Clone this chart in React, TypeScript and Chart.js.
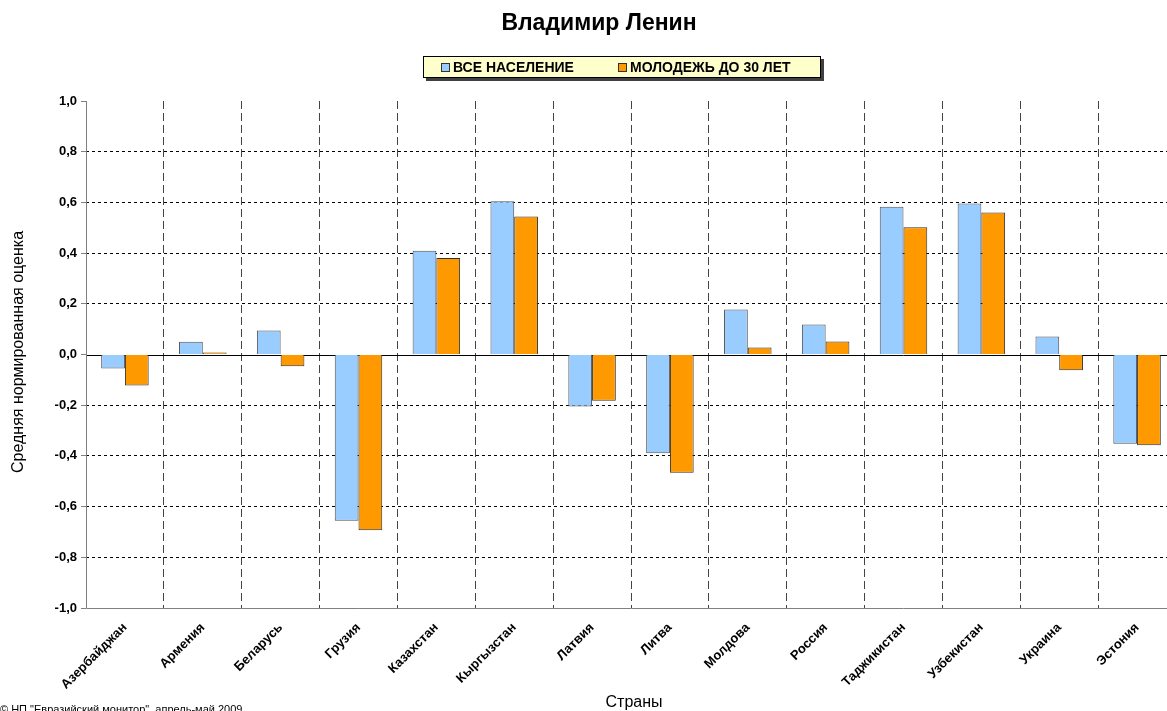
import React, { useEffect, useRef } from "react";
import { Chart, registerables } from "chart.js";

Chart.register(...registerables);

const categories = [
  "Азербайджан", "Армения", "Беларусь", "Грузия", "Казахстан", "Кыргызстан", "Латвия",
  "Литва", "Молдова", "Россия", "Таджикистан", "Узбекистан", "Украина", "Эстония",
];
const allPopulation = [-0.055, 0.05, 0.095, -0.656, 0.409, 0.605, -0.205, -0.39, 0.178, 0.118, 0.583, 0.596, 0.071, -0.352];
const youthUnder30 = [-0.122, 0.008, -0.046, -0.693, 0.381, 0.544, -0.182, -0.466, 0.028, 0.051, 0.502, 0.56, -0.062, -0.358];
const seriesNames = ["ВСЕ НАСЕЛЕНИЕ", "МОЛОДЕЖЬ ДО 30 ЛЕТ"];
const seriesColors = ["#99CCFF", "#FF9900"];
const yTicks = { min: -1, max: 1, step: 0.2 };
const titleText = "Владимир Ленин";
const yTitle = "Средняя нормированная оценка";
const xTitle = "Страны";
const sourceText = "© НП \"Евразийский монитор\", апрель-май 2009";

const FONT = "'Liberation Sans', Arial, sans-serif";

const decorPlugin = {
  id: "decor",
  beforeDatasetsDraw(chart: any) {
    const { ctx, chartArea, scales } = chart;
    const y0 = Math.round(scales.y.getPixelForValue(0)) + 0.5;
    ctx.save();
    ctx.strokeStyle = "#000";
    ctx.lineWidth = 1;
    ctx.setLineDash([]);
    ctx.beginPath();
    ctx.moveTo(chartArea.left, y0);
    ctx.lineTo(chartArea.right, y0);
    ctx.stroke();
    ctx.restore();
  },
  afterDraw(chart: any) {
    const { ctx, chartArea } = chart;
    ctx.save();
    // axis lines
    ctx.setLineDash([]);
    ctx.strokeStyle = "#808080";
    ctx.lineWidth = 1;
    const lx = Math.round(chartArea.left) + 0.5;
    const by2 = Math.round(chartArea.bottom) + 0.5;
    ctx.beginPath();
    ctx.moveTo(lx, chartArea.top);
    ctx.lineTo(lx, by2);
    ctx.lineTo(chartArea.right, by2);
    ctx.stroke();

    // title
    ctx.fillStyle = "#000";
    ctx.font = `bold 23px ${FONT}`;
    ctx.textAlign = "center";
    ctx.textBaseline = "middle";
    ctx.fillText(titleText, 599, 24);

    // legend box
    const bx = 423, by = 56, bw = 398, bh = 22;
    ctx.fillStyle = "#404040";
    ctx.fillRect(bx + 3, by + 3, bw, bh);
    ctx.fillStyle = "#FFFFCC";
    ctx.fillRect(bx, by, bw, bh);
    ctx.strokeStyle = "#000";
    ctx.lineWidth = 1;
    ctx.strokeRect(bx + 0.5, by + 0.5, bw - 1, bh - 1);
    const items = [441, 618];
    ctx.font = `bold 14px ${FONT}`;
    ctx.textAlign = "left";
    items.forEach((x, i) => {
      ctx.fillStyle = seriesColors[i];
      ctx.fillRect(x, 63, 8, 8);
      ctx.strokeStyle = "#333";
      ctx.strokeRect(x + 0.5, 63.5, 8, 8);
      ctx.fillStyle = "#000";
      ctx.fillText(seriesNames[i], x + 12, 68);
    });

    // y title
    ctx.save();
    ctx.translate(19, 352);
    ctx.rotate(-Math.PI / 2);
    ctx.font = `16px ${FONT}`;
    ctx.textAlign = "center";
    ctx.textBaseline = "middle";
    ctx.fillStyle = "#000";
    ctx.fillText(yTitle, 0, 0);
    ctx.restore();

    // x title
    ctx.font = `16px ${FONT}`;
    ctx.textAlign = "center";
    ctx.textBaseline = "middle";
    ctx.fillStyle = "#000";
    ctx.fillText(xTitle, 634, 703);

    // source
    ctx.font = `11px ${FONT}`;
    ctx.textAlign = "left";
    ctx.textBaseline = "top";
    ctx.fillText(sourceText, 0, 704);
    ctx.restore();
  },
};

export default function App() {
  const ref = useRef<HTMLCanvasElement | null>(null);
  useEffect(() => {
    if (!ref.current) return;
    const chart = new Chart(ref.current, {
      type: "bar",
      data: {
        labels: categories,
        datasets: [
          {
            label: seriesNames[0],
            data: allPopulation,
            backgroundColor: seriesColors[0],
            borderColor: "#505050",
            borderWidth: 1,
            categoryPercentage: 0.61,
            barPercentage: 1,
          },
          {
            label: seriesNames[1],
            data: youthUnder30,
            backgroundColor: seriesColors[1],
            borderColor: "#303030",
            borderWidth: 1,
            categoryPercentage: 0.61,
            barPercentage: 1,
          },
        ],
      },
      options: {
        responsive: false,
        animation: false,
        layout: { padding: { top: 101, right: 4, left: 0, bottom: 0 } },
        plugins: {
          legend: { display: false },
          title: { display: false },
          tooltip: { enabled: false },
        },
        scales: {
          x: {
            offset: true,
            grid: {
              offset: true,
              color: (c: any) => (c.index === 0 ? "rgba(0,0,0,0)" : "#444"),
              lineWidth: 1,
              drawTicks: false,
            },
            border: { display: false, dash: [8, 4] },
            ticks: {
              autoSkip: false,
              maxRotation: 45,
              minRotation: 45,
              padding: 12,
              color: "#000",
              font: { family: FONT, size: 13, weight: "bold" },
            },
            afterFit: (s: any) => {
              s.height = 103;
            },
          },
          y: {
            min: yTicks.min,
            max: yTicks.max,
            grid: {
              color: (c: any) =>
                c.tick && (Math.abs(c.tick.value) < 1e-6 || Math.abs(Math.abs(c.tick.value) - 1) < 1e-6)
                  ? "rgba(0,0,0,0)"
                  : "#000",
              lineWidth: 1,
              drawTicks: true,
              tickLength: 5,
              tickColor: "#808080",
            },
            border: { display: false, dash: [3, 3] },
            ticks: {
              stepSize: yTicks.step,
              padding: 4,
              color: "#000",
              font: { family: FONT, size: 13, weight: "bold" },
              callback: (v: any) => Number(v).toFixed(1).replace(".", ","),
            },
            afterFit: (s: any) => {
              s.width = 86;
            },
          },
        },
      },
      plugins: [decorPlugin],
    });
    return () => chart.destroy();
  }, []);
  return (
    <div style={{ position: "fixed", left: 0, top: 0, width: 1167, height: 711, overflow: "hidden", background: "#fff" }}>
      <canvas ref={ref} width={1180} height={711} style={{ display: "block", width: 1180, height: 711 }} />
    </div>
  );
}
